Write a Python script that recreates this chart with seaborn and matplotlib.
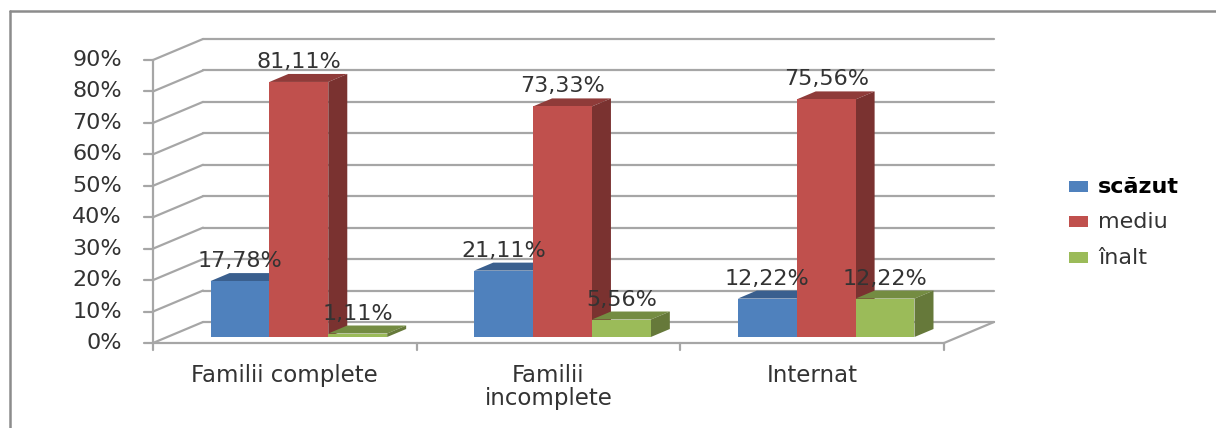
import matplotlib
matplotlib.use("Agg")
import numpy as np
import pandas as pd
import seaborn as sns
import matplotlib.pyplot as plt
from matplotlib.patches import Polygon, Rectangle
from matplotlib.transforms import Affine2D, IdentityTransform

categories = ["Familii complete", "Familii\nincomplete", "Internat"]
levels = ["scăzut", "mediu", "înalt"]
scazut = [17.78, 21.11, 12.22]
mediu = [81.11, 73.33, 75.56]
inalt = [1.11, 5.56, 12.22]
y_ticks = [0, 10, 20, 30, 40, 50, 60, 70, 80, 90]

front_colors = ["#4F81BD", "#C0504D", "#9BBB59"]
top_colors = ["#3A5F8E", "#8F3B39", "#748C42"]
side_colors = ["#2F4D73", "#7A3230", "#66793A"]
grid_color = "#A6A6A6"
text_color = "#333333"

W, H = 1216, 428


def label(value):
    return f"{value:.2f}%".replace(".", ",")


df = pd.DataFrame({
    "category": categories * 3,
    "level": [lv for lv in levels for _ in categories],
    "value": scazut + mediu + inalt,
})

sns.set_theme(style="white")
plt.rcParams["font.family"] = ["DejaVu Sans"]

fig = plt.figure(figsize=(W / 100, H / 100), dpi=100)
# the axes is the plane the bars stand on, walls are shifted from it in pixels
ax = fig.add_axes([167 / W, (H - 337) / H, 791 / W, 283 / H])
ax.patch.set_alpha(0)

sns.barplot(data=df, x="category", y="value", hue="level", order=categories,
            hue_order=levels, palette=front_colors, width=0.67, gap=0,
            saturation=1, legend=False, ax=ax, zorder=3, linewidth=0)
ax.set_xlim(-0.5, 2.5)
ax.set_ylim(0, 90)
ax.set_xlabel("")
ax.set_ylabel("")
ax.set_xticks([])
ax.set_yticks([])
sns.despine(ax=ax, left=True, bottom=True)

back = ax.transData + Affine2D().translate(36, 15)
front = ax.transData + Affine2D().translate(-14, -6)
grid_kw = dict(color=grid_color, lw=1.6, clip_on=False, zorder=1)

# back wall and left wall grid
for t in y_ticks:
    ax.plot([-0.5, 2.5], [t, t], transform=back, **grid_kw)
    p0 = front.transform((-0.5, t))
    p1 = back.transform((-0.5, t))
    ax.plot([p0[0], p1[0]], [p0[1], p1[1]], transform=IdentityTransform(), **grid_kw)
    ax.plot([p0[0] - 9, p0[0]], [p0[1], p0[1]], transform=IdentityTransform(), **grid_kw)
    ax.text(p0[0] - 31, p0[1], f"{t}%", transform=IdentityTransform(), ha="right",
            va="center", fontsize=16, color=text_color, clip_on=False)

# floor: front edge, ticks and right side
ax.plot([-0.5, 2.5], [0, 0], transform=front, **grid_kw)
ax.plot([-0.5, -0.5], [0, 90], transform=front, **grid_kw)
p0 = front.transform((2.5, 0))
p1 = back.transform((2.5, 0))
ax.plot([p0[0], p1[0]], [p0[1], p1[1]], transform=IdentityTransform(), **grid_kw)
for i in range(4):
    p = front.transform((i - 0.5, 0))
    ax.plot([p[0], p[0]], [p[1], p[1] - 7], transform=IdentityTransform(), **grid_kw)

# depth faces of every bar
depth = np.array([19, 8])
for hue_i, container in enumerate(ax.containers):
    for bar in container:
        x0, y0 = ax.transData.transform((bar.get_x(), 0))
        x1, y1 = ax.transData.transform((bar.get_x() + bar.get_width(), bar.get_height()))
        top = [(x0, y1), (x1, y1), (x1 + depth[0], y1 + depth[1]), (x0 + depth[0], y1 + depth[1])]
        side = [(x1, y0), (x1, y1), (x1 + depth[0], y1 + depth[1]), (x1 + depth[0], y0 + depth[1])]
        # later hue bars sit over the previous side face
        z = 2.5 + hue_i * 0.1
        ax.add_patch(Polygon(top, closed=True, fc=top_colors[hue_i], ec="none",
                             transform=IdentityTransform(), clip_on=False, zorder=z))
        ax.add_patch(Polygon(side, closed=True, fc=side_colors[hue_i], ec="none",
                             transform=IdentityTransform(), clip_on=False, zorder=z))
        ax.text((x0 + x1) / 2, y1 + 20, label(bar.get_height()),
                transform=IdentityTransform(), ha="center", va="center", fontsize=16,
                color=text_color, clip_on=False, zorder=6)

# category labels
for i, cat in enumerate(categories):
    p = front.transform((i, 0))
    ax.text(p[0], p[1] - 21, cat, transform=IdentityTransform(), ha="center", va="top",
            multialignment="center", fontsize=16.5, linespacing=0.98,
            color=text_color, clip_on=False)

# legend
for lv, col, py in zip(levels, front_colors, [187, 222, 258]):
    fig.patches.append(Rectangle((1069 / W, (H - py - 5) / H), 19 / W, 11 / H, fc=col, ec="none",
                                 transform=fig.transFigure))
    fig.text(1098 / W, (H - py) / H, lv, va="center",
             fontsize=16,
             color="black" if lv == "scăzut" else text_color,
             fontweight="bold" if lv == "scăzut" else "normal")

# outer frame of the pasted chart, open on the right
frame = dict(color="#8C8C8C", lw=1.8, transform=fig.transFigure)
fig.add_artist(plt.Line2D([10 / W, 10 / W], [0, (H - 11) / H], **frame))
fig.add_artist(plt.Line2D([10 / W, 1], [(H - 11) / H, (H - 11) / H], **frame))

fig.savefig("out.png", dpi=100)
